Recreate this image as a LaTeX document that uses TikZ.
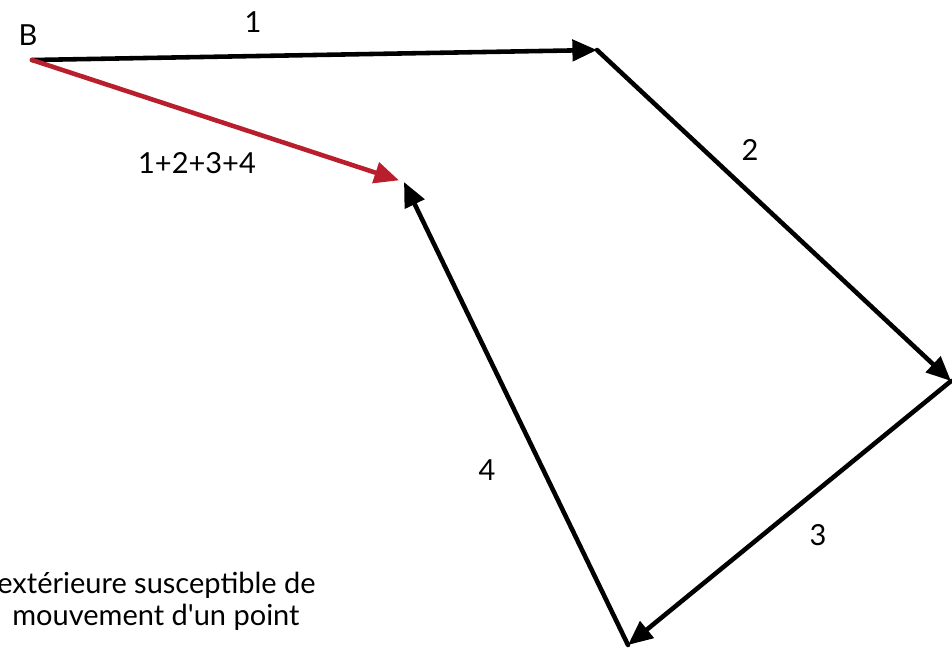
\documentclass[tikz,border=0pt]{standalone}
\usepackage{fontspec}
\setmainfont{Lato}[Ligatures=TeXOff]
\usetikzlibrary{arrows.meta}
\definecolor{sumred}{RGB}{185,30,45}
\tikzstyle{every node}=[font=\fontsize{16.5}{20}\selectfont]
\tikzstyle{vec}=[line width=2.6pt,line cap=round,line join=round,-{Triangle[length=14pt,width=12pt]}]

\begin{document}
\begin{tikzpicture}[x=0.02cm,y=-0.02cm]
% Sum of four vectors from point B
	\useasboundingbox (0,0) rectangle (952,650);
	\coordinate (B) at (32,60); % B is the start point
	\coordinate (P1) at (597,50); % P1 is the end of vector 1
	\coordinate (P2) at (951,381); % P2 is the end of vector 2
	\coordinate (P3) at (628,645); % P3 is the end of vector 3
	\coordinate (P4) at (404,182); % P4 is the end of vector 4
	%Vectors
	\draw [vec] (B) -- (P1);
	\draw [vec] (P1) -- (P2);
	\draw [vec] (P2) -- (P3);
	\draw [vec] (P3) -- (P4);
	\draw [vec, sumred, shorten >=3pt] (B) -- (P4);
	%Labels
	\node (LB) at (28,35) {B};
	\node (L1) at (253,22) {1};
	\node (L2) at (750,150) {2};
	\node (L3) at (818,535) {3};
	\node (L4) at (487,470) {4};
	\node (LS) at (197,163) {1+2+3+4};
	%Descriptions
	\node [anchor=base west, inner sep=0] (DES1) at (-3,593) {extérieure susceptible de};
	\node [anchor=base west, inner sep=0] (DES2) at (12,625) {mouvement d'un point};
\end{tikzpicture}
\end{document}
